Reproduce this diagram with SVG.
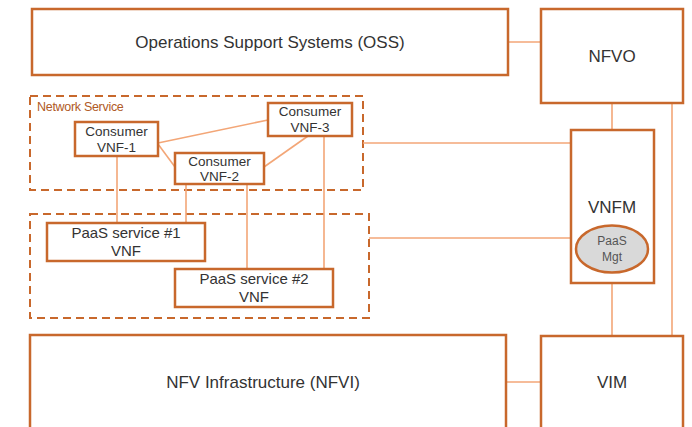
<svg xmlns="http://www.w3.org/2000/svg" width="692" height="427" viewBox="0 0 692 427">
  <style>
    .box { fill: #ffffff; stroke: #c8682c; stroke-width: 2.5; }
    .group { fill: none; stroke: #c8682c; stroke-width: 2; stroke-dasharray: 8 5; }
    .link { fill: none; stroke: #f3a677; stroke-width: 1.6; }
    text { font-family: "Liberation Sans", Arial, sans-serif; fill: #333333; text-anchor: middle; }
    .big { font-size: 17px; }
    .mid { font-size: 13.5px; }
    .paas { font-size: 15px; }
    .small { font-size: 12px; fill: #555555; }
    .label { font-size: 12.5px; fill: #b05a26; text-anchor: start; letter-spacing: -0.3px; }
  </style>

  <rect width="692" height="427" fill="#ffffff"/>

  <!-- dashed grouping frames -->
  <g id="network-service">
    <rect class="group" x="30" y="96" width="333" height="94"/>
    <text class="label" x="37" y="111">Network Service</text>
  </g>
  <g id="paas-services">
    <rect class="group" x="30" y="214" width="339" height="104"/>
  </g>

  <!-- connectors -->
  <g id="connectors">
    <line class="link" x1="508" y1="42" x2="541" y2="42"/>
    <line class="link" x1="612" y1="103" x2="612" y2="130"/>
    <line class="link" x1="672" y1="103" x2="672" y2="336"/>
    <line class="link" x1="612" y1="283" x2="612" y2="336"/>
    <line class="link" x1="506" y1="382" x2="541" y2="382"/>
    <line class="link" x1="363" y1="143" x2="571" y2="143"/>
    <line class="link" x1="369" y1="238" x2="571" y2="238"/>
    <line class="link" x1="158" y1="143" x2="268" y2="120"/>
    <line class="link" x1="158" y1="144" x2="175" y2="167"/>
    <line class="link" x1="264" y1="167" x2="308" y2="136"/>
    <line class="link" x1="117" y1="156" x2="117" y2="223"/>
    <line class="link" x1="186" y1="184" x2="186" y2="223"/>
    <line class="link" x1="247" y1="184" x2="247" y2="269"/>
    <line class="link" x1="324" y1="136" x2="324" y2="269"/>
  </g>

  <g id="oss">
    <rect class="box" x="32" y="9" width="476" height="66"/>
    <text class="big" x="270" y="48">Operations Support Systems (OSS)</text>
  </g>
  <g id="nfvo">
    <rect class="box" x="541" y="9" width="142" height="94"/>
    <text class="big" x="612" y="62">NFVO</text>
  </g>

  <g id="consumer-vnf-1">
    <rect class="box" x="75" y="122" width="83" height="34"/>
    <text class="mid" x="116.5" y="136">Consumer</text>
    <text class="mid" x="116.5" y="152">VNF-1</text>
  </g>
  <g id="consumer-vnf-2">
    <rect class="box" x="175" y="153" width="89" height="31"/>
    <text class="mid" x="219.5" y="166">Consumer</text>
    <text class="mid" x="219.5" y="181">VNF-2</text>
  </g>
  <g id="consumer-vnf-3">
    <rect class="box" x="268" y="103" width="84" height="33"/>
    <text class="mid" x="310" y="116">Consumer</text>
    <text class="mid" x="310" y="132">VNF-3</text>
  </g>

  <g id="paas-service-1">
    <rect class="box" x="47" y="223" width="158" height="38"/>
    <text class="paas" x="126" y="238">PaaS service #1</text>
    <text class="paas" x="126" y="256">VNF</text>
  </g>
  <g id="paas-service-2">
    <rect class="box" x="175" y="269" width="158" height="38"/>
    <text class="paas" x="254" y="284">PaaS service #2</text>
    <text class="paas" x="254" y="302">VNF</text>
  </g>

  <g id="vnfm">
    <rect class="box" x="571" y="130" width="83" height="153"/>
    <text class="big" x="612" y="213">VNFM</text>
    <ellipse cx="612" cy="249" rx="36" ry="23.5" fill="#d9d9d9" stroke="#c8682c" stroke-width="2.5"/>
    <text class="small" x="612" y="245">PaaS</text>
    <text class="small" x="612" y="261">Mgt</text>
  </g>

  <g id="nfvi">
    <rect class="box" x="30" y="335" width="476" height="100"/>
    <text class="big" x="263" y="388">NFV Infrastructure (NFVI)</text>
  </g>
  <g id="vim">
    <rect class="box" x="541" y="336" width="142" height="100"/>
    <text class="big" x="612" y="388">VIM</text>
  </g>
</svg>
